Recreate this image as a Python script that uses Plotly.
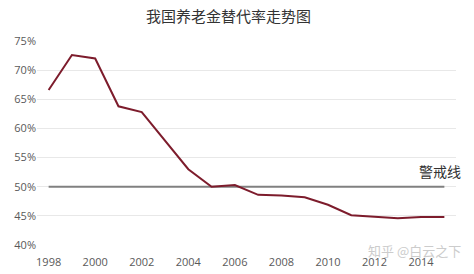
import plotly.graph_objects as go

years = list(range(1998, 2016))
replacement_rate = [0.666, 0.726, 0.720, 0.638, 0.628, 0.579, 0.530, 0.500, 0.503,
                    0.486, 0.485, 0.482, 0.469, 0.451, 0.449, 0.446, 0.448, 0.448]
warning_level = [0.50] * len(years)
x_ticks = list(range(1998, 2016, 2))
y_ticks = [0.40, 0.45, 0.50, 0.55, 0.60, 0.65, 0.70, 0.75]

title_text = "我国养老金替代率走势图"
warning_text = "警戒线"
watermark_text = "知乎 @白云之下"

fig = go.Figure()
fig.add_trace(go.Scatter(x=years, y=warning_level, mode="lines",
                         line=dict(color="#808080", width=2), hoverinfo="skip"))
fig.add_trace(go.Scatter(x=years, y=replacement_rate, mode="lines",
                         line=dict(color="#7d1c2c", width=2)))

font_cjk = "Noto Sans CJK SC"
fig.update_layout(
    width=474, height=274,
    margin=dict(l=37, r=18, t=41, b=29, autoexpand=False),
    paper_bgcolor="white", plot_bgcolor="white",
    showlegend=False,
    xaxis=dict(range=[1997.5, 2015.5], tickvals=x_ticks, showgrid=False,
               zeroline=False, showline=False, ticks="", ticklabelstandoff=9,
               automargin=False,
               tickfont=dict(family="Open Sans, sans-serif", size=11, color="#595959")),
    yaxis=dict(range=[0.40, 0.75], tickvals=y_ticks, tickformat=".0%",
               showgrid=True, gridcolor="#e8e8e8", gridwidth=1, zeroline=False,
               showline=False, ticks="", automargin=False,
               tickfont=dict(family="Open Sans, sans-serif", size=11, color="#595959")),
    annotations=[
        dict(text=title_text, xref="paper", yref="paper", x=0.457, y=1.0,
             yshift=26, xanchor="center", yanchor="middle", showarrow=False,
             font=dict(family=font_cjk, size=15, color="#333333")),
        dict(text=warning_text, xref="x", yref="y", x=2014.8, y=0.50, yshift=16,
             xanchor="center", yanchor="middle", showarrow=False,
             font=dict(family=font_cjk, size=14, color="#333333")),
        dict(text=watermark_text, xref="paper", yref="paper", x=1.0, y=0.0,
             xshift=7, yshift=-5, xanchor="right", yanchor="middle", showarrow=False,
             font=dict(family=font_cjk, size=13, color="#cccccc")),
    ],
)

fig.write_html("out.html")
